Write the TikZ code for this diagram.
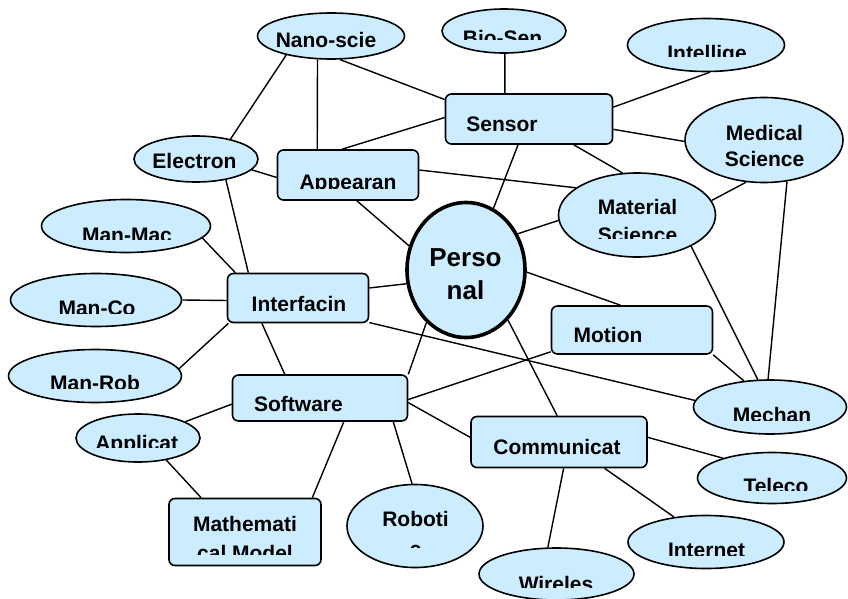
\documentclass[tikz,border=0pt]{standalone}
\usepackage{fontspec}
\setmainfont{Liberation Sans}
\usetikzlibrary{shapes.geometric}
\definecolor{nodeblue}{RGB}{204,236,255}
\newcommand\ctext[5]{%
  \begin{scope}
    \clip (#2-160,#3-70) rectangle (#2+160,#4);
    \node[txt] (#1) at (#2,#3) {#5};
  \end{scope}}
\begin{document}
\begin{tikzpicture}[x=1pt,y=-1pt,
  sz/.style 2 args={minimum width=#1pt, minimum height=#2pt},
  ell/.style={ellipse, draw, line width=1.6pt, fill=nodeblue, inner sep=0pt},
  rbox/.style={rectangle, rounded corners=6pt, draw, line width=1.6pt, fill=nodeblue, inner sep=0pt},
  link/.style={line width=1.4pt},
  txt/.style={anchor=base, inner sep=0pt, font=\fontsize{21}{25}\selectfont\bfseries},
  bigtxt/.style={anchor=base, inner sep=0pt, font=\fontsize{26}{31}\selectfont\bfseries}]
\useasboundingbox (0,0) rectangle (848,599);
% ellipses
\node[ell, sz={147}{46}] (nano) at (331,36) {};
\node[ell, sz={124}{44}] (bio) at (504,31) {};
\node[ell, sz={157}{53}] (intel) at (706,45) {};
\node[ell, sz={158}{85}] (medical) at (764,140) {};
\node[ell, sz={157}{84}] (material) at (637,215) {};
\node[ell, sz={124}{46}] (electron) at (196,159) {};
\node[ell, sz={169}{53}] (manmac) at (126,226) {};
\node[ell, sz={171}{53}] (manco) at (96,300) {};
\node[ell, sz={173}{53}] (manrob) at (95,376) {};
\node[ell, sz={124}{48}] (applicat) at (138,438) {};
\node[ell, sz={136}{83}] (robotic) at (415,526) {};
\node[ell, sz={155}{52}] (wireles) at (556.5,574) {};
\node[ell, sz={156}{53}] (internet) at (706,542) {};
\node[ell, sz={149}{51}] (teleco) at (772,478) {};
\node[ell, sz={153}{54}] (mechan) at (770,407) {};
\node[ell, sz={118}{135}, line width=3.6pt] (personal) at (466,270) {};
% boxes
\node[rbox, sz={167}{50}] (sensor) at (529,119) {};
\node[rbox, sz={141}{50}] (appear) at (348,175) {};
\node[rbox, sz={141}{49}] (interf) at (298,298) {};
\node[rbox, sz={175}{46}] (software) at (320,398) {};
\node[rbox, sz={152}{67}] (math) at (245,532) {};
\node[rbox, sz={161}{48}] (motion) at (632,330) {};
\node[rbox, sz={176}{51}] (comm) at (559,442) {};
% connectors
\draw[link] (nano.203) -- (electron.30);
\draw[link] (nano.240) -- (appear.140);
\draw[link] (nano.291) -- (sensor.167);
\draw[link] (appear.103) -- (sensor.179);
\draw[link] (electron.349) -- (appear.182);
\draw[link] (electron.325) -- (interf.153);
\draw[link] (appear.289) -- (personal.157);
\draw[link] (appear.4) -- (material.156);
\draw[link] (bio.272) -- (sensor.133);
\draw[link] (intel.278) -- (sensor.8);
\draw[link] (sensor.353) -- (medical.181);
\draw[link] (sensor.330) -- (material.109);
\draw[link] (sensor.247) -- (personal.66);
\draw[link] (material.184) -- (personal.35);
\draw[link] (material.11) -- (medical.247);
\draw[link] (material.330) -- (mechan.114);
\draw[link] (medical.299) -- (mechan.94);
\draw[link] (personal.358) -- (motion.115);
\draw[link] (personal.310) -- (comm.94);
\draw[link] (personal.193) -- (interf.8);
\draw[link] (personal.233) -- (software.15);
\draw[link] (interf.341) -- (mechan.175);
\draw[link] (motion.195) -- (software.359);
\draw[link] (software.357) -- (comm.177);
\draw[link] (motion.343) -- (mechan.135);
\draw[link] (manmac.351) -- (interf.158);
\draw[link] (manco.0) -- (interf.182);
\draw[link] (manrob.5) -- (interf.200);
\draw[link] (interf.215) -- (software.146);
\draw[link] (software.184) -- (applicat.19);
\draw[link] (applicat.322) -- (math.142);
\draw[link] (software.315) -- (math.27);
\draw[link] (software.342) -- (robotic.94);
\draw[link] (comm.3) -- (teleco.158);
\draw[link] (comm.330) -- (internet.142);
\draw[link] (comm.280) -- (wireles.108);
% texts
\node[txt] (nano-t) at (326,47.5) {Nano-scie};
\ctext{bio-t}{502.5}{45.5}{40}{Bio-Sen}
\ctext{intel-t}{707}{60.5}{57}{Intellige}
\node[txt] (sensor-t) at (502,131.5) {Sensor};
\node[txt] (medical-t1) at (764.5,140.5) {Medical};
\node[txt] (medical-t2) at (764.5,166) {Science};
\node[txt] (material-t1) at (637.5,214) {Material};
\ctext{material-t2}{637.5}{242}{238}{Science}
\node[txt] (electron-t) at (194.5,168.5) {Electron};
\ctext{appear-t}{348}{189}{188.5}{Appearan}
\ctext{manmac-t}{127}{242}{239}{Man-Mac}
\node[txt] (interf-t) at (299,311.5) {Interfacin};
\ctext{manco-t}{97}{315.5}{313}{Man-Co}
\ctext{manrob-t}{95}{390.5}{388}{Man-Rob}
\node[txt] (software-t) at (298.5,411) {Software};
\ctext{applicat-t}{136.7}{450.5}{447.5}{Applicat}
\node[txt] (math-t1) at (245,531.5) {Mathemati};
\ctext{math-t2}{245}{560}{554}{cal Model}
\node[txt] (robotic-t1) at (415.5,526) {Roboti};
\ctext{robotic-t2}{415.5}{556}{547.5}{c}
\node[bigtxt] (personal-t1) at (465.5,266.5) {Perso};
\node[bigtxt] (personal-t2) at (465.5,299) {nal};
\node[txt] (motion-t) at (608,342.5) {Motion};
\node[txt] (comm-t) at (557,454) {Communicat};
\ctext{wireles-t}{556}{591}{587.5}{Wireles}
\ctext{internet-t}{706.5}{557.5}{555}{Internet}
\ctext{teleco-t}{776}{493}{490}{Teleco}
\ctext{mechan-t}{772}{422.5}{420}{Mechan}
\end{tikzpicture}
\end{document}
